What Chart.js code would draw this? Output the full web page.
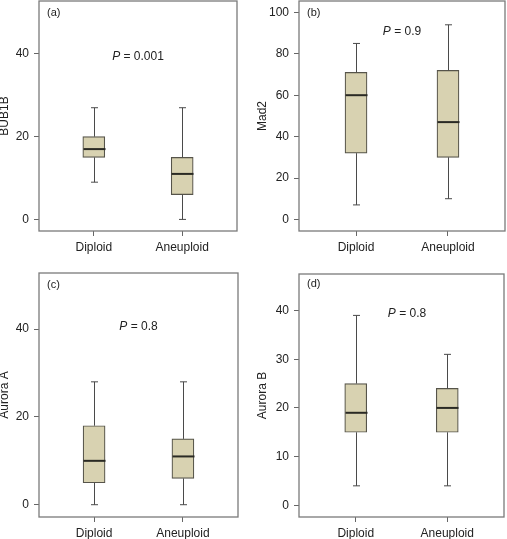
<!DOCTYPE html>
<html>
<head>
<meta charset="utf-8">
<script src="https://cdn.jsdelivr.net/npm/chart.js@4"></script>
<style>
  body { margin: 0; background: #fff; width: 507px; height: 539px; position: relative; overflow: hidden; }
  .panel { position: absolute; }
</style>
</head>
<body>
<div class="panel" style="left:-3px;top:0;width:253px;height:260px"><canvas id="cA"></canvas></div>
<div class="panel" style="left:250px;top:0;width:257px;height:260px"><canvas id="cB"></canvas></div>
<div class="panel" style="left:-3px;top:260px;width:253px;height:279px"><canvas id="cC"></canvas></div>
<div class="panel" style="left:250px;top:260px;width:257px;height:279px"><canvas id="cD"></canvas></div>
<script>
const groups = ['Diploid', 'Aneuploid'];

// box plot stats: [Diploid, Aneuploid]
const bub1bMin = [9, 0],   bub1bQ1 = [15, 6],  bub1bMed = [17, 11], bub1bQ3 = [20, 15], bub1bMax = [27, 27];
const mad2Min = [7, 10],   mad2Q1 = [32, 30],  mad2Med = [60, 47],  mad2Q3 = [71, 72],  mad2Max = [85, 94];
const auroraAMin = [0, 0], auroraAQ1 = [5, 6], auroraAMed = [10, 11], auroraAQ3 = [18, 15], auroraAMax = [28, 28];
const auroraBMin = [4, 4], auroraBQ1 = [15, 15], auroraBMed = [19, 20], auroraBQ3 = [25, 24], auroraBMax = [39, 31];

const ticksA = [0, 20, 40];
const ticksB = [0, 20, 40, 60, 80, 100];
const ticksC = [0, 20, 40];
const ticksD = [0, 10, 20, 30, 40];

const pValues = ['0.001', '0.9', '0.8', '0.8'];
const pLabelY = [39.3, 90.5, 40.5, 39.3];

const FONT = "'Liberation Sans', Arial, sans-serif";

function makePanel(id, cfg) {
  const s = cfg.stats;
  new Chart(document.getElementById(id), {
    type: 'bar',
    data: {
      datasets: [{
        data: groups.map((g, i) => ({ x: i + 1, y: [s.q1[i], s.q3[i]] })),
        backgroundColor: '#d8d2b1',
        borderColor: '#56544a',
        borderWidth: 1.2,
        borderSkipped: false,
        barThickness: 22
      }]
    },
    options: {
      responsive: true,
      maintainAspectRatio: false,
      animation: false,
      layout: { padding: { top: cfg.padTop, right: cfg.padRight, left: 0, bottom: 0 } },
      plugins: { legend: { display: false }, tooltip: { enabled: false } },
      scales: {
        x: {
          type: 'linear',
          min: 0.38, max: 2.62,
          offset: false,
          afterBuildTicks: sc => { sc.ticks = groups.map((g, i) => ({ value: i + 1 })); },
          afterFit: sc => { sc.height = cfg.xHeight; sc.paddingLeft = 0; sc.paddingRight = 0; },
          ticks: {
            callback: v => groups[v - 1],
            color: '#222', font: { family: FONT, size: 12 }, padding: 4, maxRotation: 0
          },
          grid: { offset: false, drawOnChartArea: false, drawTicks: true, tickLength: 5, color: '#666', lineWidth: 1 },
          border: { display: false }
        },
        y: {
          min: cfg.yMin, max: cfg.yMax,
          afterBuildTicks: sc => { sc.ticks = cfg.ticks.map(v => ({ value: v })); },
          afterFit: sc => { sc.width = cfg.yWidth; sc.paddingTop = 0; sc.paddingBottom = 0; },
          ticks: { color: '#222', font: { family: FONT, size: 12 }, padding: 5 },
          grid: { drawOnChartArea: false, drawTicks: true, tickLength: 5, color: '#666', lineWidth: 1 },
          border: { display: false },
          title: {
            display: true, text: cfg.title, color: '#222',
            font: { family: FONT, size: 12 }, padding: { top: cfg.titlePad, bottom: 0 }
          }
        }
      }
    },
    plugins: [{
      id: 'boxExtras',
      afterDatasetsDraw(chart) {
        const { ctx, chartArea: a, scales: { x, y } } = chart;
        ctx.save();
        groups.forEach((g, i) => {
          const px = Math.round(x.getPixelForValue(i + 1)) + 0.5;
          const yMax = y.getPixelForValue(s.max[i]);
          const yMin = y.getPixelForValue(s.min[i]);
          ctx.strokeStyle = '#4a4a4a';
          ctx.lineWidth = 1;
          ctx.beginPath();
          ctx.moveTo(px, yMax); ctx.lineTo(px, y.getPixelForValue(s.q3[i]));
          ctx.moveTo(px, y.getPixelForValue(s.q1[i])); ctx.lineTo(px, yMin);
          ctx.moveTo(px - 3.5, yMax); ctx.lineTo(px + 3.5, yMax);
          ctx.moveTo(px - 3.5, yMin); ctx.lineTo(px + 3.5, yMin);
          ctx.stroke();
          const ym = y.getPixelForValue(s.med[i]);
          ctx.strokeStyle = '#2a2a24';
          ctx.lineWidth = 2;
          ctx.beginPath();
          ctx.moveTo(px - 11, ym); ctx.lineTo(px + 11, ym);
          ctx.stroke();
        });
        // frame
        ctx.strokeStyle = '#7a7a7a';
        ctx.lineWidth = 1.3;
        ctx.strokeRect(a.left, a.top, a.right - a.left, a.bottom - a.top);
        // panel letter
        ctx.fillStyle = '#222';
        ctx.font = '11px ' + FONT;
        ctx.textBaseline = 'middle';
        ctx.textAlign = 'left';
        ctx.fillText(cfg.letter, a.left + 8, a.top + cfg.letterDy);
        // P value
        const tx = x.getPixelForValue(cfg.pX);
        const ty = y.getPixelForValue(cfg.pY);
        const rest = ' = ' + cfg.p;
        ctx.font = 'italic 12px ' + FONT;
        const w1 = ctx.measureText('P').width;
        ctx.font = '12px ' + FONT;
        const w2 = ctx.measureText(rest).width;
        const start = tx - (w1 + w2) / 2;
        ctx.font = 'italic 12px ' + FONT;
        ctx.fillText('P', start, ty);
        ctx.font = '12px ' + FONT;
        ctx.fillText(rest, start + w1, ty);
        ctx.restore();
      }
    }]
  });
}

makePanel('cA', {
  stats: { min: bub1bMin, q1: bub1bQ1, med: bub1bMed, q3: bub1bQ3, max: bub1bMax },
  ticks: ticksA, yMin: -2.8, yMax: 52.8, title: 'BUB1B', letter: '(a)',
  p: pValues[0], pX: 1.5, pY: pLabelY[0],
  yWidth: 42, xHeight: 29, padTop: 1, padRight: 13, titlePad: 0, letterDy: 12
});
makePanel('cB', {
  stats: { min: mad2Min, q1: mad2Q1, med: mad2Med, q3: mad2Q3, max: mad2Max },
  ticks: ticksB, yMin: -5.6, yMax: 105.5, title: 'Mad2', letter: '(b)',
  p: pValues[1], pX: 1.5, pY: pLabelY[1],
  yWidth: 49, xHeight: 29, padTop: 1, padRight: 2, titlePad: 5, letterDy: 12
});
makePanel('cC', {
  stats: { min: auroraAMin, q1: auroraAQ1, med: auroraAMed, q3: auroraAQ3, max: auroraAMax },
  ticks: ticksC, yMin: -2.8, yMax: 52.8, title: 'Aurora A', letter: '(c)',
  p: pValues[2], pX: 1.5, pY: pLabelY[2],
  yWidth: 42, xHeight: 22, padTop: 13, padRight: 12, titlePad: 0, letterDy: 12
});
makePanel('cD', {
  stats: { min: auroraBMin, q1: auroraBQ1, med: auroraBMed, q3: auroraBQ3, max: auroraBMax },
  ticks: ticksD, yMin: -2.4, yMax: 47.5, title: 'Aurora B', letter: '(d)',
  p: pValues[3], pX: 1.56, pY: pLabelY[3],
  yWidth: 49, xHeight: 22, padTop: 14, padRight: 3, titlePad: 5, letterDy: 10
});
</script>
</body>
</html>
